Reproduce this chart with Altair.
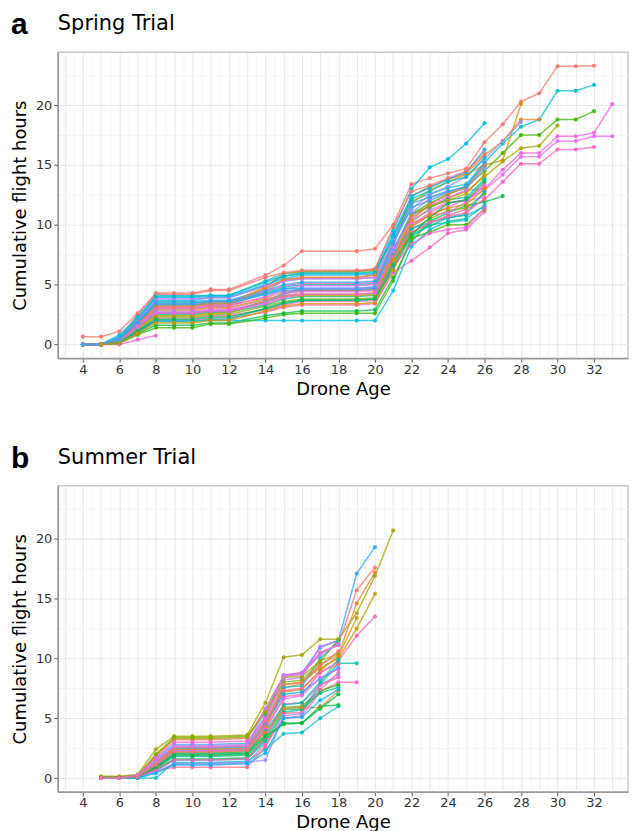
import altair as alt
import pandas as pd

# ---------------- data ----------------
spring_ages = [4, 5, 6, 7, 8, 9, 10, 11, 12, 14, 15, 16, 19, 20, 21, 22, 23, 24, 25, 26, 27, 28, 29, 30, 31, 32, 33]
N = None
spring_values = [
    [0, 0, 0.5, 2.5, 4.3, 4.3, 4.3, 4.6, 4.6, 5.8, 6.6, 7.8, 7.8, 8.0, 10.0, 13.4, 13.9, 14.3, 14.7, 16.9, 18.4, 20.3, 21.0, 23.25, 23.25, 23.3],
    [0, 0, 0.8, 2.3, 4.1, 4.1, 4.1, 4.1, 4.1, 5.3, 5.9, 6.1, 6.1, 6.3, 9.5, 13.0, 14.8, 15.5, 16.8, 18.5],
    [N, 0, 0.6, 2.0, 3.7, 3.7, 3.7, 3.9, 3.9, 4.9, 5.7, 6.0, 6.0, 6.1, 9.0, 12.0, 12.6, 13.1, 13.4, 15.2, 16.8, 18.2, 18.8, 21.2, 21.2, 21.7],
    [0, 0, 0.4, 1.9, 3.3, 3.3, 3.3, 3.5, 3.5, 4.8, 5.9, 6.1, 6.1, 6.2, 8.6, 11.8, 12.9, 13.6, 14.2, 15.0, 15.4, 20.1],
    [N, 0, 0.3, 1.6, 3.0, 3.0, 3.0, 3.2, 3.2, 4.4, 5.4, 5.6, 5.6, 5.8, 8.3, 12.4, 13.2, 13.8, 14.3, 15.8, 17.0, 18.8, 18.8],
    [0, 0, 0.2, 1.4, 2.6, 2.6, 2.6, 2.8, 2.8, 3.6, 4.3, 4.5, 4.5, 4.6, 7.6, 10.9, 11.8, 12.5, 13.2, 14.5, 16.0, 17.5, 17.5, 18.8, 18.8, 19.5],
    [N, 0, 0.3, 1.5, 2.9, 2.9, 2.9, 3.1, 3.1, 3.8, 4.1, 4.2, 4.2, 4.3, 7.2, 10.2, 11.4, 12.2, 12.8, 14.0, 15.3, 16.4, 16.6, 18.3],
    [0, 0, 0.5, 1.8, 3.4, 3.4, 3.4, 3.6, 3.6, 4.4, 4.9, 5.1, 5.1, 5.2, 8.0, 10.6, 11.6, 12.3, 12.9, 13.0, 14.6, 16.0, 16.0, 17.4, 17.4, 17.7, 20.1],
    [N, 0, 0.3, 1.3, 2.7, 2.7, 2.7, 2.9, 2.9, 3.5, 4.0, 4.4, 4.4, 4.5, 7.0, 9.8, 10.8, 11.5, 12.1, 12.9, 14.2, 15.7, 15.7, 17.0, 17.0, 17.4, 17.4],
    [0, 0, 0.2, 1.1, 2.2, 2.2, 2.2, 2.4, 2.4, 2.9, 3.3, 3.6, 3.6, 3.7, 6.4, 9.4, 10.1, 10.8, 11.3, 12.1, 13.6, 15.1, 15.1, 16.3, 16.3, 16.5],
    [N, 0, 0.4, 1.7, 3.1, 3.1, 3.1, 3.3, 3.3, 4.6, 5.3, 5.5, 5.5, 5.6, 8.8, 11.3, 12.5, 13.2, 14.0, 15.5, 17.0, 18.6],
    [0, 0, 0.1, 0.9, 1.6, 1.6, 1.6, 1.8, 1.8, 2.4, 2.6, 2.8, 2.8, 2.9, 5.6, 8.6, 10.3, 11.0, 11.6, 11.9, 12.4],
    [0, 0, 0.6, 2.1, 3.9, 3.9, 3.9, 4.0, 4.0, 5.0, 5.5, 5.8, 5.8, 5.9, 9.2, 12.4, 13.1, 13.8, 14.4, 16.3],
    [N, 0, 0.5, 1.9, 3.6, 3.6, 3.6, 3.7, 3.7, 4.5, 5.0, 5.2, 5.2, 5.3, 8.4, 11.5, 12.0, 12.7, 13.2, 14.9],
    [0, 0, 0.4, 1.8, 3.5, 3.5, 3.5, 3.6, 3.6, 4.3, 4.8, 5.0, 5.0, 5.1, 7.9, 10.9, 11.5, 12.1, 12.3, 13.8],
    [N, 0, 0.3, 1.5, 2.8, 2.8, 2.8, 3.0, 3.0, 3.7, 4.2, 4.5, 4.5, 4.6, 7.3, 10.0, 11.0, 11.8, 12.1, 13.2],
    [0, 0, 0.2, 1.2, 2.3, 2.3, 2.3, 2.5, 2.5, 3.2, 3.6, 3.8, 3.8, 3.9, 6.8, 9.6, 10.5, 11.2, 11.4, 12.6],
    [N, 0, 0.5, 2.0, 3.8, 3.8, 3.8, 3.9, 3.9, 4.9, 5.3, 5.5, 5.5, 5.6, 8.1, 10.4, 11.2, 11.9, 12.0, 12.3],
    [0, 0, 0.3, 1.4, 2.5, 2.5, 2.5, 2.7, 2.7, 3.3, 3.8, 4.0, 4.0, 4.1, 6.9, 9.2, 9.9, 10.6, 10.8, 11.5],
    [N, 0, 0.2, 1.0, 2.0, 2.0, 2.0, 2.2, 2.2, 2.7, 3.1, 3.3, 3.3, 3.4, 6.0, 7.0, 8.1, 9.3, 9.6, 11.1],
    [0, 0, 0.3, 1.2, 2.0, 2.0, 2.0, 2.0, 2.0, 2.0, 2.0, 2.0, 2.0, 2.0, 4.5, 8.2, 9.6, 10.3, 10.5, 11.6],
    [N, 0, 0, 0.4, 0.75],
    [0.65, 0.65, 1.1, 2.6, 4.2, 4.2, 4.2, 4.5, 4.5, 5.6, 6.0, 6.2, 6.2, 6.3, 9.8, 12.8, 13.3, 13.9, 14.5, 16.0],
    [0, 0, 0.2, 1.6, 3.0, 3.0, 3.0, 3.2, 3.2, 4.0, 4.6, 4.9, 4.9, 5.0, 7.7, 10.1, 10.8, 11.0, 11.9, 13.4],
    [N, 0, 0.4, 1.8, 3.3, 3.3, 3.3, 3.4, 3.4, 4.2, 4.7, 4.7, 4.7, 4.8, 7.5, 9.7, 10.2, 10.6, 10.9, 12.8],
    [0, 0, 0.2, 1.3, 2.4, 2.4, 2.4, 2.6, 2.6, 3.6, 4.0, 4.1, 4.1, 4.2, 7.1, 10.8, 11.6, 12.0, 12.6, 14.2],
    [0, 0, 0.1, 1.0, 1.9, 1.9, 1.9, 2.1, 2.1, 3.0, 3.4, 3.7, 3.7, 3.8, 6.3, 9.0, 10.0, 10.2, 10.4],
    [N, 0, 0.1, 0.8, 1.4, 1.4, 1.4, 1.7, 1.7, 2.2, 2.5, 2.6, 2.6, 2.6, 5.3, 8.9, 9.4, 10.0, 10.0, 11.3],
    [0, 0, 0.3, 1.6, 3.1, 3.1, 3.1, 3.3, 3.3, 3.9, 4.4, 4.6, 4.6, 4.7, 7.4, 9.3, 10.2, 10.7, 11.0, 12.2],
    [N, 0, 0.2, 1.4, 2.7, 2.7, 2.7, 2.8, 2.8, 3.5, 4.2, 4.7, 4.7, 4.8, 7.8, 11.0, 12.2, 12.8, 13.0, 14.7],
    [0, 0, 0.5, 2.2, 4.0, 4.0, 4.0, 4.1, 4.1, 5.2, 5.7, 5.9, 5.9, 6.0, 9.0, 12.2, 12.8, 13.6, 14.0, 15.6],
    [N, 0, 0.4, 1.7, 3.2, 3.2, 3.2, 3.4, 3.4, 4.7, 5.4, 5.6, 5.6, 5.8, 7.0, 10.4, 11.7, 12.6, 13.1, 15.0],
    [0, 0, 0.3, 1.5, 2.6, 2.6, 2.6, 2.8, 2.8, 3.4, 3.9, 4.2, 4.2, 4.3, 6.5, 8.4, 9.3, 9.6, 9.8, 11.4],
    [N, 0, 0.2, 1.1, 2.1, 2.1, 2.1, 2.3, 2.3, 3.0, 3.5, 3.7, 3.7, 3.8, 6.6, 9.2, 10.6, 11.8, 12.1, 13.6],
    [0, 0, 0.4, 1.8, 3.4, 3.4, 3.4, 3.6, 3.6, 4.2, 4.5, 4.6, 4.6, 4.7, 8.6, 11.8, 12.3, 12.8, 13.2, 15.2],
    [N, 0, 0.1, 0.9, 1.8, 1.8, 1.8, 2.0, 2.0, 2.8, 3.2, 3.4, 3.4, 3.5, 6.2, 9.9, 10.8, 11.4, 11.7, 13.0],
]
spring_colors = [
    "#F8766D", "#00BAE0", "#00BFC4", "#D89000", "#EA8331", "#39B600", "#A3A500", "#FA62DB", "#E76BF3",
    "#FF62BC", "#9590FF", "#00BB4E", "#00B0F6", "#35A2FF", "#00C1A3", "#FF6C91", "#7CAE00", "#C77CFF",
    "#00BF7D", "#FF62BC", "#00BAE0", "#FA62DB", "#F8766D", "#E76BF3", "#00B0F6", "#C09B00", "#00C1A3",
    "#39B600", "#FF6C91", "#9590FF", "#00BFC4", "#EA8331", "#FA62DB", "#00BB4E", "#35A2FF", "#D89000",
]

summer_ages = [5, 6, 7, 8, 9, 10, 11, 13, 14, 15, 16, 17, 18, 19, 20, 21]
summer_values = [
    [0.15, 0.15, 0.3, 2.4, 3.5, 3.5, 3.5, 3.6, 6.3, 10.1, 10.3, 11.6, 11.6, 13.8, 16.9, 20.7],
    [0, 0, 0.2, 1.6, 2.8, 2.8, 2.8, 2.9, 5.2, 8.6, 8.8, 10.9, 11.5, 17.1, 19.3],
    [0.1, 0.1, 0.2, 1.8, 3.2, 3.2, 3.2, 3.3, 5.8, 8.5, 8.7, 10.4, 11.2, 15.7, 17.6],
    [0, 0, 0.1, 1.2, 2.4, 2.4, 2.4, 2.5, 4.5, 7.5, 7.9, 9.5, 10.3, 14.6, 17.2],
    [0, 0, 0.2, 1.4, 2.6, 2.6, 2.6, 2.7, 4.8, 7.8, 8.0, 9.2, 10.0, 12.5, 15.4],
    [0, 0, 0.1, 0.8, 2.0, 2.0, 2.0, 2.1, 4.0, 6.8, 7.0, 8.8, 9.8, 11.9, 13.5],
    [0, 0, 0.1, 1.0, 2.2, 2.2, 2.2, 2.3, 4.2, 7.2, 7.4, 9.0, 10.2, 13.4],
    [0, 0, 0, 0.6, 1.5, 1.5, 1.5, 1.6, 3.0, 5.5, 5.7, 7.8, 9.6, 9.6],
    [0, 0, 0.1, 0.5, 1.2, 1.2, 1.2, 1.3, 2.8, 5.0, 5.2, 7.2, 8.0, 8.0],
    [0, 0, 0, 0, 1.3, 1.3, 1.3, 1.4, 2.4, 3.7, 3.8, 5.0, 6.0],
    [0, 0, 0.1, 0.7, 1.6, 1.6, 1.6, 1.7, 3.2, 4.6, 4.6, 6.0, 6.1],
    [0, 0, 0.2, 1.5, 2.7, 2.7, 2.7, 2.8, 4.9, 8.2, 8.4, 11.0, 11.5],
    [0, 0, 0.1, 1.1, 2.3, 2.3, 2.3, 2.4, 4.4, 7.6, 7.7, 10.0, 11.4],
    [0, 0, 0.1, 0.9, 2.1, 2.1, 2.1, 2.2, 3.6, 5.9, 6.0, 7.3, 7.8],
    [0.05, 0.05, 0.1, 0.6, 0.9, 0.9, 0.9, 0.9, 2.6, 5.4, 5.5, 7.4, 8.8],
    [0, 0, 0.2, 1.9, 3.3, 3.3, 3.3, 3.4, 5.6, 8.4, 8.5, 9.8, 10.4],
    [0, 0, 0.1, 1.3, 2.5, 2.5, 2.5, 2.6, 4.6, 7.0, 7.2, 8.3, 9.2],
    [0, 0, 0.1, 0.5, 1.2, 1.2, 1.2, 1.3, 1.5, 5.2, 5.4, 7.8, 8.6],
    [0, 0, 0.2, 1.2, 2.3, 2.3, 2.3, 2.4, 4.1, 6.6, 6.9, 8.4, 9.1],
    [0.1, 0.1, 0.2, 2.0, 3.4, 3.4, 3.4, 3.5, 5.4, 8.0, 8.2, 9.7, 11.6],
    [0, 0, 0.1, 0.8, 1.8, 1.8, 1.8, 1.9, 3.3, 5.7, 5.8, 7.1, 7.6],
    [0, 0, 0.1, 0.7, 1.5, 1.5, 1.5, 1.6, 3.4, 6.2, 6.3, 7.8, 8.4],
    [0, 0, 0.2, 1.3, 2.6, 2.6, 2.6, 2.7, 4.3, 7.8, 8.0, 9.4, 10.6],
    [0, 0, 0.1, 1.0, 2.0, 2.0, 2.0, 2.1, 3.9, 6.1, 6.3, 8.0, 9.9],
    [0, 0, 0.2, 1.7, 3.0, 3.0, 3.0, 3.1, 5.0, 8.6, 8.8, 10.5, 11.1],
    [0, 0, 0.1, 1.2, 2.4, 2.4, 2.4, 2.5, 3.8, 5.8, 5.9, 5.9, 7.3],
    [0, 0, 0.1, 0.9, 1.9, 1.9, 1.9, 2.0, 3.5, 4.5, 4.6, 5.8, 7.0],
    [0, 0, 0, 0.4, 1.1, 1.1, 1.1, 1.2, 2.1, 5.0, 5.1, 6.5, 7.4],
    [0, 0, 0.2, 1.4, 2.6, 2.6, 2.6, 2.7, 5.8, 8.5, 8.7, 10.3, 11.2],
    [0, 0, 0.1, 1.1, 2.2, 2.2, 2.2, 2.3, 4.7, 7.3, 7.5, 8.9, 9.5],
]
summer_colors = [
    "#A3A500", "#35A2FF", "#F8766D", "#EA8331", "#C09B00", "#FF62BC", "#D89000", "#00C1A3", "#FA62DB",
    "#00BFC4", "#00BB4E", "#C77CFF", "#00BAE0", "#39B600", "#FF6C91", "#A3A500", "#00B0F6", "#9590FF",
    "#E76BF3", "#7CAE00", "#00BF7D", "#FF62BC", "#F8766D", "#00C1A3", "#FA62DB", "#EA8331", "#00BA38",
    "#00B0F6", "#C77CFF", "#FF6C91",
]

x_tick_labels = [4, 6, 8, 10, 12, 14, 16, 18, 20, 22, 24, 26, 28, 30, 32]
y_tick_labels = [0, 5, 10, 15, 20]
x_grid = [v / 2 for v in range(6, 68)]        # every half day
y_grid = [v * 2.5 for v in range(0, 10)]      # every 2.5 h
x_domain = [2.63, 33.86]
y_domain = [-1.15, 24.43]

FONT = "DejaVu Sans"


def to_long(ages, series, prefix):
    rows = []
    for i, vals in enumerate(series):
        for a, v in zip(ages, vals):
            if v is not None:
                rows.append({"id": f"{prefix}{i:02d}", "age": a, "hours": v})
    return pd.DataFrame(rows)


x_lab_test = "indexof([" + ",".join(str(v) for v in x_tick_labels) + "], datum.value) >= 0"
y_lab_test = "indexof([" + ",".join(str(v) for v in y_tick_labels) + "], datum.value) >= 0"

x_axis = alt.Axis(
    values=x_grid,
    labelExpr=f"({x_lab_test}) ? format(datum.value, 'd') : ''",
    labelOverlap=False,
    labelFlush=False,
    labelFont=FONT, labelFontSize=13, labelColor="#333333", labelPadding=1,
    tickOpacity={"condition": {"test": x_lab_test, "value": 1}, "value": 0},
    tickColor="#555555", tickSize=4,
    gridColor={"condition": {"test": "datum.value % 1 === 0", "value": "#e8e8e8"}, "value": "#f4f4f4"},
    gridWidth=1,
    domainColor="#999999", domainWidth=1.5,
    title="Drone Age", titleFont=FONT, titleFontSize=18, titleFontWeight="normal",
    titleColor="#000000", titlePadding=4,
)
y_axis = alt.Axis(
    values=y_grid,
    labelExpr=f"({y_lab_test}) ? format(datum.value, 'd') : ''",
    labelOverlap=False,
    labelFlush=False,
    labelFont=FONT, labelFontSize=13, labelColor="#333333", labelPadding=2,
    tickOpacity={"condition": {"test": y_lab_test, "value": 1}, "value": 0},
    tickColor="#555555", tickSize=4,
    gridColor={"condition": {"test": y_lab_test, "value": "#e8e8e8"}, "value": "#f4f4f4"},
    gridWidth=1,
    domainColor="#999999", domainWidth=1.5,
    title="Cumulative flight hours", titleFont=FONT, titleFontSize=18, titleFontWeight="normal",
    titleColor="#000000", titlePadding=6,
)


def panel(ages, series, colors, prefix, letter, title):
    df = to_long(ages, series, prefix)
    ids = [f"{prefix}{i:02d}" for i in range(len(series))]
    color = alt.Color("id:N", scale=alt.Scale(domain=ids, range=colors), legend=None)
    x = alt.X("age:Q", scale=alt.Scale(domain=x_domain, nice=False, zero=False), axis=x_axis)
    y = alt.Y("hours:Q", scale=alt.Scale(domain=y_domain, nice=False, zero=False), axis=y_axis)
    base = alt.Chart(df)
    lines = base.mark_line(strokeWidth=1.5, opacity=0.75).encode(x=x, y=y, color=color, detail="id:N")
    pts = base.mark_circle(size=17, opacity=0.9).encode(x=x, y=y, color=color)
    heads = pd.DataFrame({"letter": [letter], "title": [title]})
    lab = alt.Chart(heads).mark_text(
        align="left", baseline="alphabetic", font="Liberation Sans", fontWeight="bold",
        fontSize=30, color="#000000"
    ).encode(text="letter:N", x=alt.value(-47), y=alt.value(-18))
    ttl = alt.Chart(heads).mark_text(
        align="left", baseline="alphabetic", font=FONT, fontWeight="normal",
        fontSize=21, color="#000000"
    ).encode(text="title:N", x=alt.value(0), y=alt.value(-22))
    return alt.layer(lines, pts, lab, ttl).properties(width=572, height=307)


spring = panel(spring_ages, spring_values, spring_colors, "s", "a", "Spring Trial")
summer = panel(summer_ages, summer_values, summer_colors, "u", "b", "Summer Trial")

chart = alt.vconcat(spring, summer, spacing=44).resolve_scale(color="independent").properties(
    padding={"left": 2, "top": 0, "right": 0, "bottom": 0}
).configure_view(stroke="#c8c8c8", strokeWidth=1.5)

chart.save("out.html", embed_options={"renderer": "svg", "actions": False})
